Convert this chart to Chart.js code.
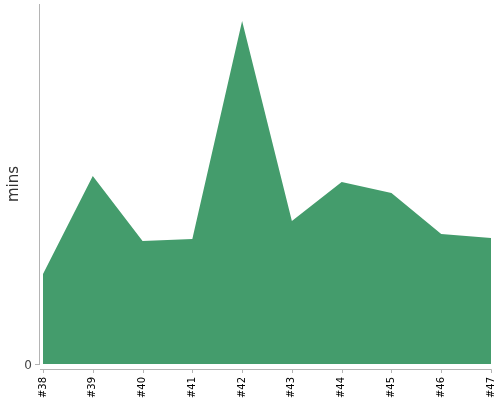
<!DOCTYPE html>
<html>
<head>
<meta charset="utf-8">
<script src="https://cdn.jsdelivr.net/npm/chart.js@4"></script>
<style>
  html, body { margin: 0; padding: 0; background: #fff; }
  #wrap { width: 500px; height: 400px; }
</style>
</head>
<body>
<div id="wrap"><canvas id="minsChart" width="500" height="400"></canvas></div>
<script>
// builds and their durations
const builds = ['#38', '#39', '#40', '#41', '#42', '#43', '#44', '#45', '#46', '#47'];
const minutes = [90, 188, 123, 125, 343, 143, 182, 171, 130, 126];
const yTicks = [0];

const axisColor = '#b4b4b4';

// axis lines sit a few pixels away from the plot, drawn by hand
const offsetAxes = {
    id: 'offsetAxes',
    afterDraw(chart) {
        const { ctx, chartArea: a, scales } = chart;
        ctx.save();
        ctx.strokeStyle = axisColor;
        ctx.lineWidth = 1;
        ctx.beginPath();
        // y axis
        ctx.moveTo(39.5, a.top);
        ctx.lineTo(39.5, a.bottom + 1);
        ctx.moveTo(35, scales.y.getPixelForValue(0) + 0.5);
        ctx.lineTo(39.5, scales.y.getPixelForValue(0) + 0.5);
        // x axis
        ctx.moveTo(40, a.bottom + 5.5);
        ctx.lineTo(a.right + 0.5, a.bottom + 5.5);
        builds.forEach((b, i) => {
            const x = Math.round(scales.x.getPixelForValue(i)) + 0.5;
            ctx.moveTo(x, a.bottom + 5.5);
            ctx.lineTo(x, a.bottom + 9);
        });
        ctx.stroke();
        ctx.restore();
    }
};

new Chart(document.getElementById('minsChart').getContext('2d'), {
    type: 'line',
    data: {
        labels: builds,
        datasets: [{
            label: 'mins',
            data: minutes,
            fill: 'origin',
            backgroundColor: '#449c6c',
            borderWidth: 0,
            pointRadius: 0,
            tension: 0
        }]
    },
    options: {
        responsive: false,
        animation: false,
        layout: { padding: { top: 4, right: 9, left: 0, bottom: 0 } },
        plugins: {
            legend: { display: false },
            tooltip: { enabled: false }
        },
        scales: {
            x: {
                grid: { display: false, drawTicks: false },
                border: { display: false },
                ticks: {
                    autoSkip: false,
                    minRotation: 90,
                    maxRotation: 90,
                    padding: 13,
                    color: '#000',
                    font: { family: 'DejaVu Sans', size: 10 }
                },
                afterFit(scale) {
                    scale.height = 36;
                    scale.paddingLeft = 0;
                    scale.paddingRight = 0;
                }
            },
            y: {
                min: 0,
                max: 360,
                grid: { display: false, drawTicks: false },
                border: { display: false },
                afterBuildTicks(scale) { scale.ticks = yTicks.map(v => ({ value: v })); },
                ticks: {
                    padding: 11,
                    labelOffset: 2,
                    color: '#444',
                    font: { family: 'DejaVu Sans', size: 12 }
                },
                title: {
                    display: true,
                    text: 'mins',
                    color: '#333',
                    padding: { top: 5, bottom: 0 },
                    font: { family: 'DejaVu Sans', size: 15 }
                },
                afterFit(scale) {
                    scale.width = 43;
                    scale.paddingTop = 0;
                    scale.paddingBottom = 0;
                }
            }
        }
    },
    plugins: [offsetAxes]
});
</script>
</body>
</html>
